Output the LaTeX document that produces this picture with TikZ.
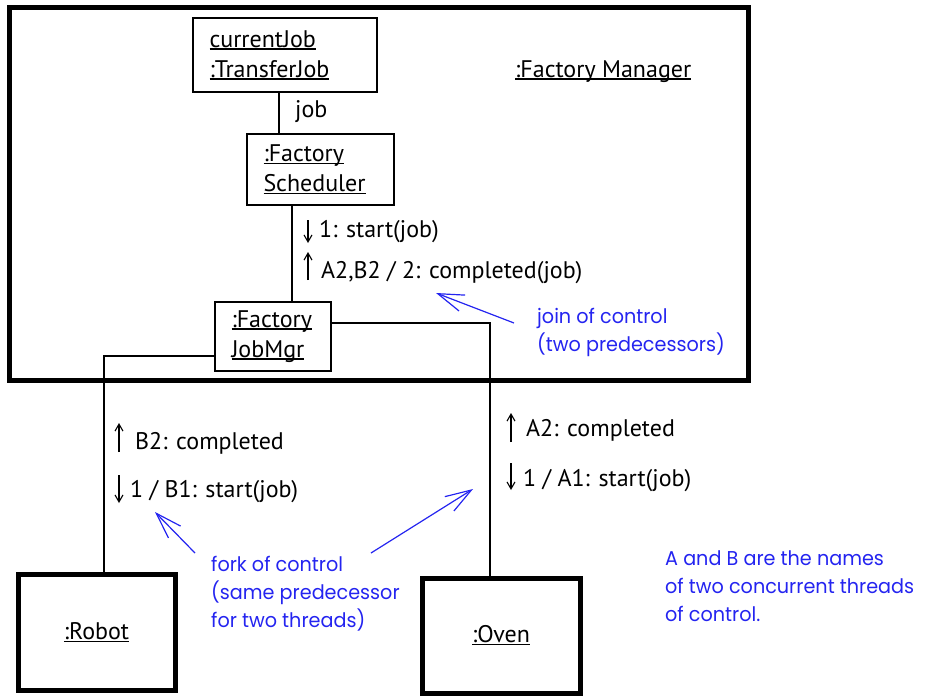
\documentclass[tikz,border=0pt]{standalone}
\usepackage{fontspec}
\setmainfont{PT Sans}
\newfontfamily\notefont[FakeStretch=0.96]{Poppins}
\usepackage{tikz}
\usetikzlibrary{arrows.meta,positioning,calc}
\usepackage{xcolor}
\definecolor{noteblue}{HTML}{2424F0}
\newcommand{\undl}[1]{\leavevmode\setbox0=\hbox{#1}\rlap{\rule[-2.6pt]{\wd0}{1.5pt}}\box0}

\begin{document}
\begin{tikzpicture}[x=1pt, y=-1pt,
  obj/.style={draw, line width=2.4pt, align=left, inner xsep=16.5pt, inner ysep=0pt, font=\fontsize{24}{30}\selectfont},
  bigobj/.style={draw, line width=5pt, minimum width=157pt, minimum height=116pt, inner sep=0pt, font=\fontsize{24}{30}\selectfont},
  msgtext/.style={anchor=base west, inner sep=0pt, font=\fontsize{24}{30}\selectfont},
  msg/.style={-{Straight Barb[length=7pt,width=8pt]}, line width=1.1pt},
  link/.style={line width=2.4pt},
  wire/.style={line width=1.2pt},
  note/.style={anchor=north west, inner sep=0pt, align=left, text=noteblue, font=\notefont\fontsize{20}{28}\selectfont},
  pointer/.style={-{Straight Barb[length=26pt,width=17pt]}, noteblue, line width=1.2pt}]
  \useasboundingbox (0,0) rectangle (925,697);
  % composite object frame
  \node[draw, line width=5pt, minimum width=739pt, minimum height=372.5pt, inner sep=0pt] (frame) at (378.5,193.75) {};
  \node[msgtext] (mgr) at (515,77) {\undl{:Factory Manager}};
  % inner objects
  \node[obj, text width=151pt, minimum height=74pt] (tjob) at (285,55) {\undl{currentJob}\\\undl{:TransferJob}};
  \node[obj, text width=114pt, minimum height=71pt] (sched) at (320.5,169.5) {\undl{:Factory}\\\undl{Scheduler}};
  \node[obj, text width=83pt, minimum height=69pt] (jobmgr) at (273,336.5) {\undl{:Factory}\\\undl{JobMgr}};
  % outside objects
  \node[bigobj] (robot) at (96.5,632.5) {\undl{:Robot}};
  \node[bigobj, minimum width=158pt, minimum height=115pt] (oven) at (501,635.5) {\undl{:Oven}};
  % links
  \draw[link] ([xshift=-6pt]tjob.south) -- ([xshift=-41.5pt]sched.north);
  \node[msgtext] (joblbl) at (295,117) {job};
  \draw[link] ([xshift=-28.5pt]sched.south) -- ([xshift=19pt]jobmgr.north);
  \draw[wire] ([yshift=13.5pt]jobmgr.east) -| ([xshift=-11pt]oven.north);
  \draw[wire] ([yshift=-19.5pt]jobmgr.west) -| ([xshift=7.5pt]robot.north);
  % messages
  \node[msgtext] (m1) at (319,237) {1: start(job)};
  \node[msgtext] (m2) at (321,278) {A2,B2 / 2: completed(job)};
  \node[msgtext] (b2) at (135,449) {B2: completed};
  \node[msgtext] (b1) at (130,497) {1 / B1: start(job)};
  \node[msgtext] (a2) at (526,436) {A2: completed};
  \node[msgtext] (a1) at (523,486) {1 / A1: start(job)};
  \draw[msg] ([xshift=-11pt,yshift=17pt]m1.base west) -- ([xshift=-11pt,yshift=-6pt]m1.base west);
  \draw[msg] ([xshift=-13pt,yshift=-2pt]m2.base west) -- ([xshift=-13pt,yshift=26pt]m2.base west);
  \draw[msg] ([xshift=-16pt,yshift=-3pt]b2.base west) -- ([xshift=-16pt,yshift=26pt]b2.base west);
  \draw[msg] ([xshift=-11pt,yshift=22pt]b1.base west) -- ([xshift=-11pt,yshift=-6pt]b1.base west);
  \draw[msg] ([xshift=-15pt,yshift=-6pt]a2.base west) -- ([xshift=-15pt,yshift=23pt]a2.base west);
  \draw[msg] ([xshift=-12pt,yshift=23pt]a1.base west) -- ([xshift=-12pt,yshift=-4pt]a1.base west);
  % notes
  \node[note] (join) at (537,308) {join of control\\(two predecessors)};
  \node[note] (fork) at (211,556) {fork of control\\(same predecessor\\for two threads)};
  \node[note] (threads) at (665,550) {A and B are the names\\of two concurrent threads\\of control.};
  \draw[pointer] ([xshift=-23pt,yshift=-15pt]join.north west) -- ([xshift=115pt,yshift=-15pt]m2.base west);
  \draw[pointer] ([xshift=-16pt,yshift=3pt]fork.north west) -- ([xshift=25pt,yshift=-15pt]b1.base west);
  \draw[pointer] ([xshift=160pt,yshift=3pt]fork.north west) -- ([xshift=-50pt,yshift=-3pt]a1.base west);
\end{tikzpicture}
\end{document}
